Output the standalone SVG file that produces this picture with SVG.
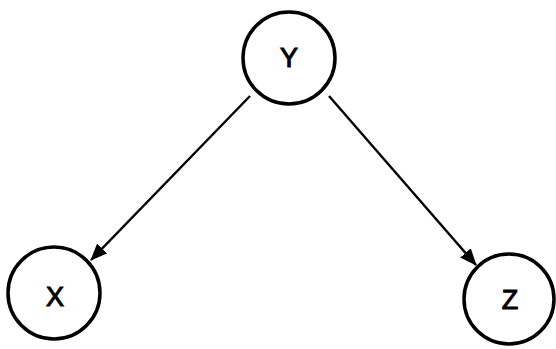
<svg xmlns="http://www.w3.org/2000/svg" width="556" height="349" viewBox="0 0 556 349">
<style>
.node circle{fill:#fff;stroke:#000;stroke-width:3.5}
.node text{font-family:"Liberation Sans",Arial,sans-serif;font-size:27px;fill:#000;text-anchor:middle;dominant-baseline:central;stroke:#000;stroke-width:1}
.edge{stroke:#000;stroke-width:2.4;fill:none;marker-end:url(#ah)}
</style>
<defs>
<marker id="ah" viewBox="0 0 17 14" refX="16" refY="7" markerWidth="17" markerHeight="14" markerUnits="userSpaceOnUse" orient="auto">
<path d="M0,0 L17,7 L0,14 z" fill="#000"/>
</marker>
</defs>
<rect width="556" height="349" fill="#fff"/>
<g id="connectors">
<line class="edge" x1="250" y1="96" x2="91" y2="260"/>
<line class="edge" x1="329" y1="96" x2="476" y2="265"/>
</g>
<g id="node-Y" class="node"><circle cx="289" cy="58" r="46"/><text x="289" y="58">Y</text></g>
<g id="node-X" class="node"><circle cx="54" cy="293" r="46"/><text x="55" y="297">X</text></g>
<g id="node-Z" class="node"><circle cx="509" cy="299" r="45"/><text x="510" y="300">Z</text></g>
</svg>
